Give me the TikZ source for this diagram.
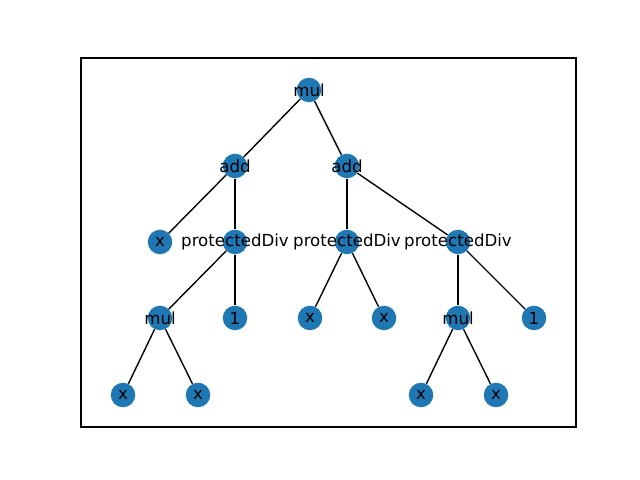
\documentclass[tikz,border=0pt]{standalone}
\usepackage{fontspec}
\setmainfont{DejaVu Sans}
\definecolor{tabblue}{HTML}{1F77B4}
\begin{document}
\begin{tikzpicture}[x=0.01in,y=-0.01in,
  vertex/.style={circle,fill=tabblue,minimum size=0.245in,inner sep=0pt,
    label={[font=\fontsize{12}{14}\selectfont,inner sep=0pt]center:#1}},
  edge/.style={line width=1pt,black}]
\useasboundingbox (0,0) rectangle (640,480);
\draw[line width=0.8pt] (81,58) rectangle (576,427);

\node[vertex=mul] (root) at (309,90) {};
\node[vertex=add] (addl) at (235,166) {};
\node[vertex=add] (addr) at (347,166) {};
\node[vertex=x] (xa) at (160,242) {};
\node[vertex=protectedDiv] (divl) at (235,242) {};
\node[vertex=protectedDiv] (divm) at (347,242) {};
\node[vertex=protectedDiv] (divr) at (458,242) {};
\node[vertex=mul] (mull) at (160,318) {};
\node[vertex=1] (onel) at (235,318) {};
\node[vertex=x] (xb) at (310,318) {};
\node[vertex=x] (xc) at (384,318) {};
\node[vertex=mul] (mulr) at (458,318) {};
\node[vertex=1] (oner) at (534,318) {};
\node[vertex=x] (xd) at (123,395) {};
\node[vertex=x] (xe) at (198,395) {};
\node[vertex=x] (xf) at (421,395) {};
\node[vertex=x] (xg) at (496,395) {};

\draw[edge] (root) -- (addl);
\draw[edge] (root) -- (addr);
\draw[edge] (addl) -- (xa);
\draw[edge] (addl) -- (divl);
\draw[edge] (addr) -- (divm);
\draw[edge] (addr) -- (divr);
\draw[edge] (divl) -- (mull);
\draw[edge] (divl) -- (onel);
\draw[edge] (divm) -- (xb);
\draw[edge] (divm) -- (xc);
\draw[edge] (divr) -- (mulr);
\draw[edge] (divr) -- (oner);
\draw[edge] (mull) -- (xd);
\draw[edge] (mull) -- (xe);
\draw[edge] (mulr) -- (xf);
\draw[edge] (mulr) -- (xg);
\end{tikzpicture}
\end{document}
